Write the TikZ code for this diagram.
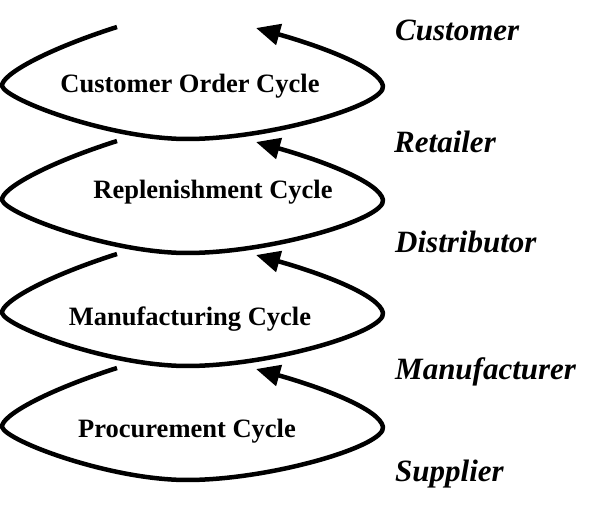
\documentclass[tikz,border=0pt]{standalone}
\usepackage{fontspec}
\setmainfont{Liberation Serif}
\usetikzlibrary{arrows.meta}
\begin{document}
\begin{tikzpicture}[x=1pt,y=-1pt,
  loopline/.style={line width=4.5pt,line cap=butt,line join=round},
  cyclelabel/.style={anchor=base,inner sep=0pt,font=\fontsize{26.5}{30}\selectfont\bfseries},
  rolelabel/.style={anchor=base west,inner sep=0pt,font=\fontsize{31}{36}\selectfont\bfseries\itshape}]
\useasboundingbox (0,0) rectangle (598,510);
\foreach \Y/\n in {27/a,141/b,254/c,368/d}{
  \begin{scope}[yshift=-\Y pt]
    \coordinate (S\n) at (117,0);
    \coordinate (L\n) at (2,59);
    \coordinate (B\n) at (187,112);
    \coordinate (R\n) at (383,59);
    \coordinate (T\n) at (256,1);
    \draw[loopline,-{Triangle[length=24pt,width=21pt]}]
      (S\n) .. controls (45,23) and (1,48) .. (L\n)
      .. controls (6,73) and (110,112) .. (B\n)
      .. controls (270,112) and (386,78) .. (R\n)
      .. controls (380,41) and (320,19) .. (T\n);
  \end{scope}
}
\node[cyclelabel] (c1) at (190,93) {Customer Order Cycle};
\node[cyclelabel] (c2) at (213,199) {Replenishment Cycle};
\node[cyclelabel] (c3) at (190,326) {Manufacturing Cycle};
\node[cyclelabel] (c4) at (187,438) {Procurement Cycle};
\node[rolelabel] (r1) at (395,41) {Customer};
\node[rolelabel] (r2) at (394,153) {Retailer};
\node[rolelabel] (r3) at (395,253) {Distributor};
\node[rolelabel] (r4) at (395,380) {Manufacturer};
\node[rolelabel] (r5) at (395,482) {Supplier};
\end{tikzpicture}
\end{document}
